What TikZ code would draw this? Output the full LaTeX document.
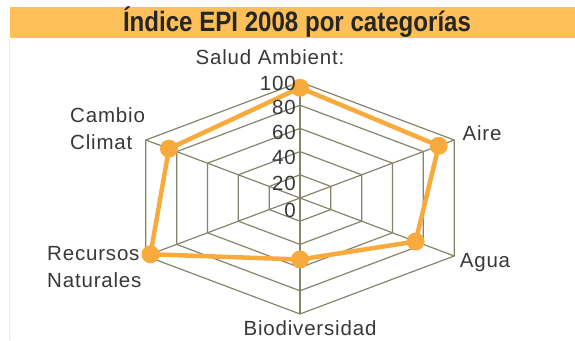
\documentclass[tikz,border=0pt]{standalone}
\usepackage{fontspec}
\setmainfont{Liberation Sans}[LetterSpace=4]
\newfontfamily\titlefont{Liberation Sans}[FakeStretch=0.86]
\definecolor{barra}{HTML}{FDBF5A}
\definecolor{marco}{HTML}{FFE9A0}
\definecolor{rejilla}{HTML}{85836A}
\definecolor{datos}{HTML}{F8AA3C}
\definecolor{texto}{HTML}{383838}
\begin{document}
\begin{tikzpicture}[x=1pt,y=1pt,
    gridline/.style={rejilla,line width=1.2pt},
    dataline/.style={datos,line width=4.5pt,line join=round},
    dot/.style={circle,fill=datos,inner sep=0pt,minimum size=18pt},
    etiqueta/.style={texto,inner sep=0pt,font=\fontsize{20.5}{27}\selectfont},
    escala/.style={etiqueta,anchor=east}]
    \useasboundingbox (0,0) rectangle (575,340);

    % Cabecera
    \fill[barra] (10,302) rectangle (575,333);
    \draw[marco,line width=1.5pt] (9.5,0) -- (9.5,302);
    \node[inner sep=0pt,color=black!85,font=\titlefont\bfseries\fontsize{28}{30}\selectfont] (titulo) at (297,318) {Índice EPI 2008 por categorías};

    \begin{scope}[shift={(300,142)},x=178pt,y=116pt]
        % Rejilla
        \foreach \r in {0.2,0.4,0.6,0.8,1} {
            \draw[gridline] (90:\r) -- (30:\r) -- (-30:\r) -- (-90:\r) -- (-150:\r) -- (150:\r) -- cycle;
        }
        \foreach \a in {90,30,-30,-90,-150,150} {
            \draw[gridline] (0,0) -- (\a:1);
        }

        % Valores
        \node[dot] (salud) at (90:0.95) {};
        \node[dot] (aire) at (30:0.9) {};
        \node[dot] (agua) at (-30:0.75) {};
        \node[dot] (bio) at (-90:0.53) {};
        \node[dot] (recursos) at (-150:0.97) {};
        \node[dot] (cambio) at (150:0.85) {};
        \draw[dataline] (salud.center) -- (aire.center) -- (agua.center) -- (bio.center)
            -- (recursos.center) -- (cambio.center) -- cycle;
    \end{scope}

    % Escala
    \foreach \v/\y in {100/257,80/233,60/208,40/183,20/157,0/130} {
        \node[escala] (esc\v) at (296,\y) {\v};
    }

    % Etiquetas
    \node[etiqueta] (lsalud) at (270,283) {Salud Ambient:};
    \node[etiqueta,anchor=west,align=left] (lcambio) at (70,211) {Cambio\\Climat};
    \node[etiqueta] (laire) at (482,207) {Aire};
    \node[etiqueta] (lagua) at (485,77) {Agua};
    \node[etiqueta,anchor=west,align=left] (lrecursos) at (47,73) {Recursos\\Naturales};
    \node[etiqueta] (lbio) at (310,12) {Biodiversidad};

\end{tikzpicture}
\end{document}
